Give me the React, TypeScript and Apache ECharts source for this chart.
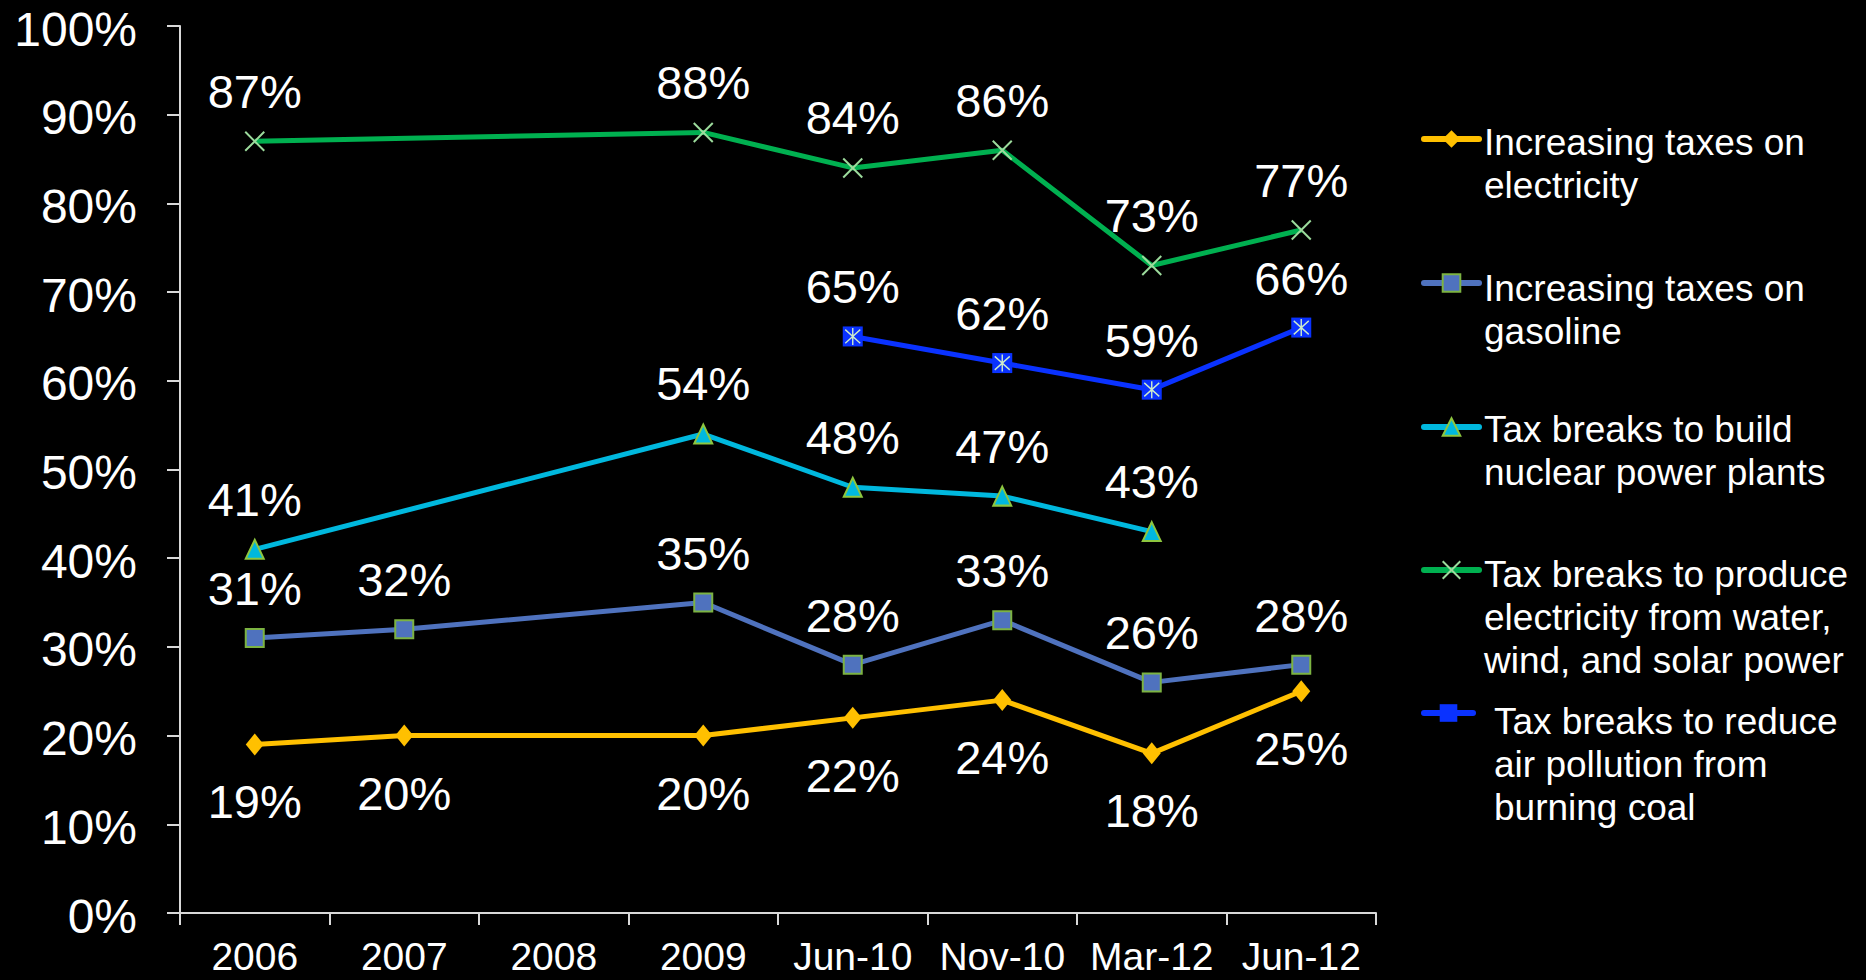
import React, { useEffect, useRef } from "react";
import * as echarts from "echarts";

const categories = ["2006", "2007", "2008", "2009", "Jun-10", "Nov-10", "Mar-12", "Jun-12"];
const electricity = [19, 20, null, 20, 22, 24, 18, 25];
const gasoline = [31, 32, null, 35, 28, 33, 26, 28];
const nuclear = [41, null, null, 54, 48, 47, 43, null];
const renewable = [87, null, null, 88, 84, 86, 73, 77];
const coal = [null, null, null, null, 65, 62, 59, 66];

const seriesNames = [
  "Increasing taxes on electricity",
  "Increasing taxes on gasoline",
  "Tax breaks to build nuclear power plants",
  "Tax breaks to produce electricity from water, wind, and solar power",
  "Tax breaks to reduce air pollution from burning coal",
];
const legendLines = [
  ["Increasing taxes on", "electricity"],
  ["Increasing taxes on", "gasoline"],
  ["Tax breaks to build", "nuclear power plants"],
  ["Tax breaks to produce", "electricity from water,", "wind, and solar power"],
  ["Tax breaks to reduce", "air pollution from", "burning coal"],
];
const yTicks = { min: 0, max: 100, interval: 10 };

const FONT = "'Liberation Sans', Arial, sans-serif";
const X_PATH = "path://M0,0L10,10M0,10L10,0";
const AST_PATH = "path://M5,0L5,10M1,1L9,9M1,9L9,1";

export default function App() {
  const ref = useRef<HTMLDivElement>(null);
  useEffect(() => {
    if (!ref.current) return;
    const chart = echarts.init(ref.current, null, { renderer: "svg" });
    const label = (pos: string, dist: number) => ({
      show: true,
      position: pos,
      distance: dist,
      formatter: "{c}%",
      color: "#ffffff",
      fontSize: 47,
      fontFamily: FONT,
    });
    const LH = 43;
    const iconCenters = [139, 283, 427, 570, 713];
    const textOffsets = [3.6, 5, 2.5, 4, 8.6];
    const legends = seriesNames.map((name, i) => {
      const n = legendLines[i].length;
      const X = n === 2 ? LH + 2 * textOffsets[i] : LH + textOffsets[i];
      const text = new Array(n - 1)
        .fill("{e| }")
        .concat(legendLines[i].map((s) => `{t|${s}}`))
        .join("\n");
      const blockH = (n - 1) * X + n * LH;
      return {
        data: [name],
        orient: "vertical",
        left: 1421,
        top: iconCenters[i] - blockH / 2,
        padding: 0,
        itemGap: 0,
        itemWidth: i === 4 ? 49 : 55,
        itemHeight: 22,
        selectedMode: false,
        formatter: () => text,
        lineStyle: { width: 6, cap: "round" },
        textStyle: {
          color: "#ffffff",
          fontSize: 37,
          lineHeight: LH,
          fontFamily: FONT,
          padding: [0, 0, 0, i === 4 ? 16 : 0],
          rich: {
            e: { fontSize: 8, lineHeight: X, color: "#ffffff" },
            t: { fontSize: 37, lineHeight: LH, color: "#ffffff", fontFamily: FONT },
          },
        },
      };
    });
    chart.setOption({
      animation: false,
      backgroundColor: "#000000",
      grid: { left: 180, right: 490, top: 24, bottom: 67, containLabel: false },
      legend: legends,
      xAxis: {
        type: "category",
        data: categories,
        boundaryGap: true,
        axisLine: { lineStyle: { color: "#D9D9D9", width: 2 } },
        axisTick: { show: true, length: 12, lineStyle: { color: "#D9D9D9", width: 2 } },
        axisLabel: { color: "#ffffff", fontSize: 39, lineHeight: 39, fontFamily: FONT, margin: 24, interval: 0 },
        splitLine: { show: false },
      },
      yAxis: {
        type: "value",
        min: yTicks.min,
        max: yTicks.max,
        interval: yTicks.interval,
        axisLine: { show: true, lineStyle: { color: "#D9D9D9", width: 2 } },
        axisTick: { show: true, length: 13, lineStyle: { color: "#D9D9D9", width: 2 } },
        axisLabel: {
          color: "#ffffff",
          fontFamily: FONT,
          margin: 43,
          formatter: (v: number) => `{e| }\n{v|${v}%}`,
          rich: {
            e: { fontSize: 6, lineHeight: 6 },
            v: { fontSize: 48, lineHeight: 46, color: "#ffffff", fontFamily: FONT },
          },
        },
        splitLine: { show: false },
      },
      series: [
        {
          name: seriesNames[0],
          type: "line",
          data: electricity,
          connectNulls: true,
          symbol: "diamond",
          symbolSize: [18, 22],
          lineStyle: { color: "#FFC000", width: 5 },
          itemStyle: { color: "#FFC000" },
          label: label("bottom", 23),
          z: 3,
        },
        {
          name: seriesNames[1],
          type: "line",
          data: gasoline,
          connectNulls: true,
          symbol: "rect",
          symbolSize: 18,
          lineStyle: { color: "#4F72BE", width: 5 },
          itemStyle: { color: "#4F72BE", borderColor: "#7CB342", borderWidth: 2 },
          label: label("top", 16),
          z: 3,
        },
        {
          name: seriesNames[2],
          type: "line",
          data: nuclear,
          connectNulls: true,
          symbol: "triangle",
          symbolSize: [18, 19],
          lineStyle: { color: "#00B8DE", width: 5 },
          itemStyle: { color: "#00B8DE", borderColor: "#8DC63F", borderWidth: 2 },
          label: label("top", 16),
          z: 3,
        },
        {
          name: seriesNames[3],
          type: "line",
          data: renewable,
          connectNulls: true,
          symbol: X_PATH,
          symbolSize: 19,
          lineStyle: { color: "#00B050", width: 5 },
          itemStyle: { color: "rgba(0,0,0,0)", borderColor: "#9CDB9C", borderWidth: 2 },
          label: label("top", 16),
          z: 3,
        },
        {
          name: seriesNames[4],
          type: "line",
          data: coal,
          connectNulls: true,
          symbol: "rect",
          symbolSize: 20,
          lineStyle: { color: "#0A32FF", width: 5 },
          itemStyle: { color: "#0A32FF" },
          label: label("top", 16),
          z: 3,
        },
        {
          name: "coal-asterisk",
          type: "line",
          data: coal,
          symbol: AST_PATH,
          symbolSize: [15, 17],
          silent: true,
          lineStyle: { opacity: 0, width: 0 },
          itemStyle: { color: "rgba(0,0,0,0)", borderColor: "#CDEBCB", borderWidth: 1.5 },
          label: { show: false },
          z: 4,
        },
      ],
    });
    return () => chart.dispose();
  }, []);
  return (
    <div
      ref={ref}
      style={{ position: "fixed", left: 0, top: 0, width: 1866, height: 980, background: "#000" }}
    />
  );
}
